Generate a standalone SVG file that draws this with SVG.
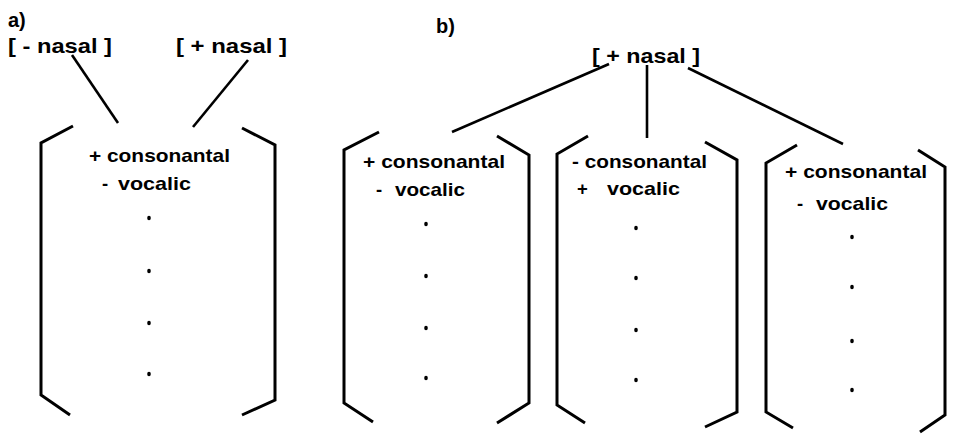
<svg xmlns="http://www.w3.org/2000/svg" width="956" height="435" viewBox="0 0 956 435">
  <style>
    text { font-family: "Liberation Sans", Arial, sans-serif; font-weight: bold; fill: #000; }
    .lbl { font-size: 21px; }
    .feat { font-size: 18.5px; }
    .panel { font-size: 20px; }
    .brk { fill: none; stroke: #000; stroke-width: 3; stroke-linejoin: miter; stroke-linecap: butt; }
    .edge { fill: none; stroke: #000; stroke-width: 2.6; stroke-linecap: butt; }
    .dot { fill: #000; }
  </style>

  <!-- panel labels -->
  <text class="panel" x="8" y="27">a)</text>
  <text class="panel" x="436" y="33">b)</text>

  <!-- panel a: two nasal values sharing one segment matrix -->
  <g id="a-minus-nasal">
    <text class="lbl" x="8" y="53" textLength="104" lengthAdjust="spacingAndGlyphs">[ - nasal ]</text>
  </g>
  <g id="a-plus-nasal">
    <text class="lbl" x="176" y="53" textLength="111" lengthAdjust="spacingAndGlyphs">[ + nasal ]</text>
  </g>
  <g id="a-matrix">
    <polyline class="brk" points="73,126 41,143 41,395 70,415"/>
    <polyline class="brk" points="242,128 275,145 275,400 242,415"/>
    <text class="feat" x="89" y="162" textLength="141" lengthAdjust="spacingAndGlyphs">+ consonantal</text>
    <text class="feat" x="102" y="190">-</text>
    <text class="feat" x="118" y="190" textLength="73" lengthAdjust="spacingAndGlyphs">vocalic</text>
    <ellipse class="dot" cx="149" cy="218" rx="1.8" ry="2.2"/>
    <ellipse class="dot" cx="149" cy="271" rx="1.8" ry="2.2"/>
    <ellipse class="dot" cx="149" cy="323" rx="1.8" ry="2.2"/>
    <ellipse class="dot" cx="149" cy="374" rx="1.8" ry="2.2"/>
  </g>

  <!-- panel b: one nasal value spread over three matrices -->
  <g id="b-plus-nasal">
    <text class="lbl" x="592" y="63" textLength="108" lengthAdjust="spacingAndGlyphs">[ + nasal ]</text>
  </g>
  <g id="b-matrix-1">
    <polyline class="brk" points="379,132 344,150 344,403 373,422"/>
    <polyline class="brk" points="497,136 529,155 529,403 497,423"/>
    <text class="feat" x="363" y="168" textLength="142" lengthAdjust="spacingAndGlyphs">+ consonantal</text>
    <text class="feat" x="376" y="196">-</text>
    <text class="feat" x="395" y="196" textLength="70" lengthAdjust="spacingAndGlyphs">vocalic</text>
    <ellipse class="dot" cx="426" cy="224" rx="1.8" ry="2.2"/>
    <ellipse class="dot" cx="426" cy="276" rx="1.8" ry="2.2"/>
    <ellipse class="dot" cx="426" cy="328" rx="1.8" ry="2.2"/>
    <ellipse class="dot" cx="426" cy="378" rx="1.8" ry="2.2"/>
  </g>
  <g id="b-matrix-2">
    <polyline class="brk" points="588,136 557,154 557,405 585,423"/>
    <polyline class="brk" points="705,142 737,160 737,412 705,427"/>
    <text class="feat" x="572" y="168" textLength="135" lengthAdjust="spacingAndGlyphs">- consonantal</text>
    <text class="feat" x="577" y="195">+</text>
    <text class="feat" x="607" y="195" textLength="73" lengthAdjust="spacingAndGlyphs">vocalic</text>
    <ellipse class="dot" cx="636" cy="228" rx="1.8" ry="2.2"/>
    <ellipse class="dot" cx="636" cy="278" rx="1.8" ry="2.2"/>
    <ellipse class="dot" cx="636" cy="330" rx="1.8" ry="2.2"/>
    <ellipse class="dot" cx="636" cy="380" rx="1.8" ry="2.2"/>
  </g>
  <g id="b-matrix-3">
    <polyline class="brk" points="797,145 766,163 766,412 793,428"/>
    <polyline class="brk" points="918,150 945,167 945,415 920,432"/>
    <text class="feat" x="785" y="178" textLength="142" lengthAdjust="spacingAndGlyphs">+ consonantal</text>
    <text class="feat" x="797" y="210">-</text>
    <text class="feat" x="816" y="210" textLength="72" lengthAdjust="spacingAndGlyphs">vocalic</text>
    <ellipse class="dot" cx="852" cy="237" rx="1.8" ry="2.2"/>
    <ellipse class="dot" cx="852" cy="287" rx="1.8" ry="2.2"/>
    <ellipse class="dot" cx="852" cy="341" rx="1.8" ry="2.2"/>
    <ellipse class="dot" cx="852" cy="390" rx="1.8" ry="2.2"/>
  </g>

  <!-- association lines -->
  <g id="connectors">
    <line class="edge" x1="72" y1="55" x2="118" y2="123"/>
    <line class="edge" x1="248" y1="60" x2="193" y2="127"/>
    <line class="edge" x1="609" y1="64" x2="452" y2="132"/>
    <line class="edge" x1="647" y1="65" x2="647" y2="138"/>
    <line class="edge" x1="688" y1="68" x2="843" y2="144"/>
  </g>
</svg>
